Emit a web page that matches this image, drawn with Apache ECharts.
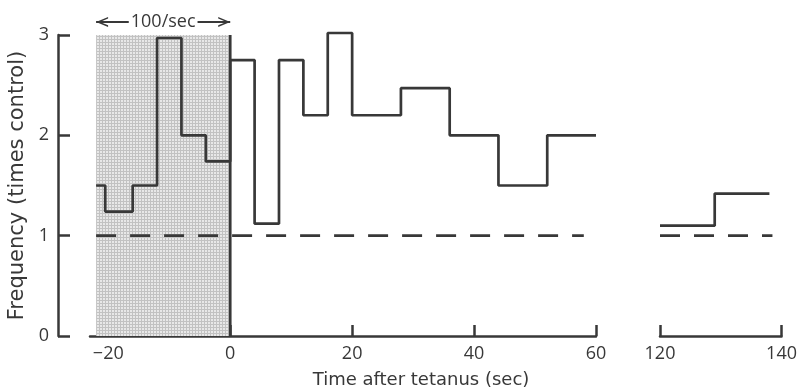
<!DOCTYPE html>
<html>
<head>
<meta charset="utf-8">
<script src="https://cdn.jsdelivr.net/npm/echarts@6/dist/echarts.min.js"></script>
<style>
  html, body { margin: 0; padding: 0; background: #fff; }
  #chart { width: 800px; height: 389px; }
</style>
</head>
<body>
<div id="chart"></div>
<script>
// bin edges (sec) and frequency (times control)
const earlyEdges = [-22, -20.5, -16, -12, -8, -4, 0, 4, 8, 12, 16, 20, 28, 36, 44, 52, 60];
const earlyValues = [1.5, 1.24, 1.5, 2.97, 2.0, 1.74, 2.75, 1.12, 2.75, 2.2, 3.02, 2.2, 2.47, 2.0, 1.5, 2.0];
const lateEdges = [120, 129, 138];
const lateValues = [1.1, 1.42];
const tetanus = [-22, 0];           // shaded stimulation period (100/sec)
const controlLevel = 1;
const controlSpanEarly = [-22, 58];
const controlSpanLate = [120, 138.5];
const earlyTicks = [-20, 0, 20, 40, 60];
const lateTicks = [120, 140];

const ink = '#383838';
const font = 'Open Sans';
const nameFont = 'DejaVu Sans';

function stepPoints(edges, values) {
  const pts = values.map((v, i) => [edges[i], v]);
  pts.push([edges[edges.length - 1], values[values.length - 1]]);
  return pts;
}

// stipple for the tetanus period
const stipple = document.createElement('canvas');
stipple.width = 3;
stipple.height = 3;
const sctx = stipple.getContext('2d');
sctx.fillStyle = '#e8e8e8';
sctx.fillRect(0, 0, 3, 3);
sctx.fillStyle = '#c2c2c2';
sctx.fillRect(0, 0, 3, 1);
sctx.fillRect(0, 0, 1, 3);

// open arrow head pointing up, tip in the middle of the box so it sits on the end point
const openArrow = 'path://M5,0L5.01,0L5,0.01Z M5,10L10,20L8.4,20L5,13.2L1.6,20L0,20Z';

const chart = echarts.init(document.getElementById('chart'));

const option = {
  animation: false,
  textStyle: {fontFamily: font, color: ink},
  title: {
    text: 'Time after tetanus (sec)',
    left: 416,
    top: 366,
    textAlign: 'center',
    textStyle: {fontFamily: nameFont, fontSize: 18, fontWeight: 'normal', color: ink}
  },
  grid: [
    {left: 58, width: 10, top: 35, bottom: 53},            // y axis only
    {left: 90, width: 506, top: 4.9, height: 331.1},       // -23 .. 60
    {left: 660, width: 122, top: 4.9, height: 331.1}       // 120 .. 140
  ],
  xAxis: [
    {gridIndex: 0, type: 'value', show: false, min: 0, max: 1},
    {
      gridIndex: 1, type: 'value', min: -23, max: 60,
      splitLine: {show: false},
      axisLine: {lineStyle: {color: ink, width: 2.5}},
      axisTick: {inside: true, length: 11, lineStyle: {color: ink, width: 2.5}, customValues: earlyTicks},
      axisLabel: {
        customValues: earlyTicks, margin: 9, fontSize: 18, color: ink, fontFamily: font,
        formatter: v => v < 0 ? '\u2212' + Math.abs(v) : String(v)
      }
    },
    {
      gridIndex: 2, type: 'value', min: 120, max: 140, interval: 20,
      splitLine: {show: false},
      axisLine: {lineStyle: {color: ink, width: 2.5}},
      axisTick: {inside: true, length: 11, lineStyle: {color: ink, width: 2.5}, customValues: lateTicks},
      axisLabel: {customValues: lateTicks, margin: 9, fontSize: 18, color: ink, fontFamily: font}
    }
  ],
  yAxis: [
    {
      gridIndex: 0, type: 'value', min: 0, max: 3, interval: 1,
      name: 'Frequency (times control)',
      nameLocation: 'middle', nameGap: 30,
      nameTextStyle: {fontSize: 21, color: ink, fontFamily: nameFont},
      splitLine: {show: false},
      axisLine: {show: true, lineStyle: {color: ink, width: 2.5}},
      axisTick: {show: true, inside: true, length: 12, lineStyle: {color: ink, width: 2.5}},
      axisLabel: {margin: 9, fontSize: 18, color: ink, fontFamily: font}
    },
    {gridIndex: 1, type: 'value', min: 0, max: 3.3, show: false},
    {gridIndex: 2, type: 'value', min: 0, max: 3.3, show: false}
  ],
  series: [
    {
      type: 'line', xAxisIndex: 1, yAxisIndex: 1,
      step: 'end', symbol: 'none', clip: false,
      lineStyle: {color: ink, width: 2.7},
      data: stepPoints(earlyEdges, earlyValues),
      z: 3,
      markArea: {
        silent: true,
        itemStyle: {color: {image: stipple, repeat: 'repeat'}},
        data: [[{coord: [tetanus[0], 0]}, {coord: [tetanus[1], 3]}]]
      },
      markLine: {
        silent: true,
        symbol: [openArrow, openArrow],
        symbolSize: [10, 24],
        lineStyle: {color: ink, width: 2, type: 'solid'},
        label: {
          show: true, position: 'middle', distance: 0, verticalAlign: 'middle',
          formatter: '100/sec',
          fontSize: 18, color: ink, fontFamily: font,
          backgroundColor: '#fff', padding: [0, 2]
        },
        data: [[{coord: [tetanus[0], 3.13]}, {coord: [tetanus[1], 3.13]}]]
      }
    },
    {
      // right edge of the stimulation period
      type: 'line', xAxisIndex: 1, yAxisIndex: 1, symbol: 'none',
      lineStyle: {color: ink, width: 2.7},
      data: [[tetanus[1], 0], [tetanus[1], 3]]
    },
    {
      type: 'line', xAxisIndex: 1, yAxisIndex: 1, symbol: 'none',
      lineStyle: {color: ink, width: 2.7, type: [20, 14]},
      data: [[controlSpanEarly[0], controlLevel], [controlSpanEarly[1], controlLevel]]
    },
    {
      type: 'line', xAxisIndex: 2, yAxisIndex: 2,
      step: 'end', symbol: 'none',
      lineStyle: {color: ink, width: 2.7},
      data: stepPoints(lateEdges, lateValues)
    },
    {
      type: 'line', xAxisIndex: 2, yAxisIndex: 2, symbol: 'none',
      lineStyle: {color: ink, width: 2.7, type: [20, 14]},
      data: [[controlSpanLate[0], controlLevel], [controlSpanLate[1], controlLevel]]
    }
  ]
};

chart.setOption(option);
</script>
</body>
</html>
